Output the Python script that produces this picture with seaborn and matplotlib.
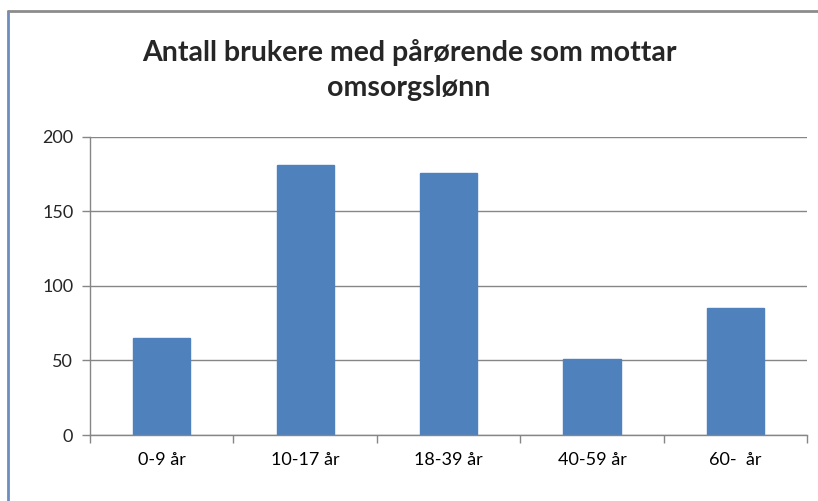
import pandas as pd
import seaborn as sns
import matplotlib.pyplot as plt
from matplotlib.lines import Line2D

sns.set_theme(style="white")
plt.rcParams['font.family'] = ['Lato', 'DejaVu Sans']

# data
kategorier = ['0-9 år', '10-17 år', '18-39 år', '40-59 år', '60-  år']
antall = [65, 181, 176, 51, 85]
tittel = 'Antall brukere med pårørende som mottar\nomsorgslønn'

df = pd.DataFrame({'alder': kategorier, 'antall': antall})

fig = plt.figure(figsize=(8.18, 5.01), dpi=100)
ax = fig.add_axes([0.110, 0.1317, 0.877, 0.5954])

sns.barplot(data=df, x='alder', y='antall', color='#4F81BD', saturation=1,
            width=0.4, ax=ax, edgecolor='#4F81BD')

ax.set_ylim(0, 200)
ax.set_yticks([0, 50, 100, 150, 200])
ax.set_xlim(-0.5, 4.5)
ax.set_xlabel('')
ax.set_ylabel('')
ax.yaxis.grid(True, color='#868686', linewidth=1)
ax.set_axisbelow(True)
for s in ['top', 'right']:
    ax.spines[s].set_visible(False)
for s in ['left', 'bottom']:
    ax.spines[s].set_color('#868686')
    ax.spines[s].set_linewidth(1)

# kategori-skillestreker paa x-aksen
ax.set_xticks([0, 1, 2, 3, 4])
ax.set_xticklabels(kategorier)
ax.set_xticks([-0.5, 0.5, 1.5, 2.5, 3.5, 4.5], minor=True)
ax.tick_params(axis='x', which='major', length=0, labelsize=13, pad=12, colors='black')
ax.tick_params(axis='x', which='minor', length=6, color='#868686', width=1, bottom=True)
ax.tick_params(axis='y', length=6, color='#868686', width=1, labelsize=13, pad=6, left=True)

fig.text(0.5, 0.86, tittel, ha='center', va='center', fontsize=20.5,
         fontweight='bold', linespacing=1.43)

# ramme (bildet er beskaaret, bare venstre og topp synes)
fig.add_artist(Line2D([8/818, 8/818], [0, 1 - 11/501], color='#6d8cc0',
                      linewidth=2, transform=fig.transFigure))
fig.add_artist(Line2D([8/818, 1], [1 - 11/501, 1 - 11/501], color='#8c8c8c',
                      linewidth=2, transform=fig.transFigure))

fig.savefig('out.png', dpi=100, facecolor='white')
